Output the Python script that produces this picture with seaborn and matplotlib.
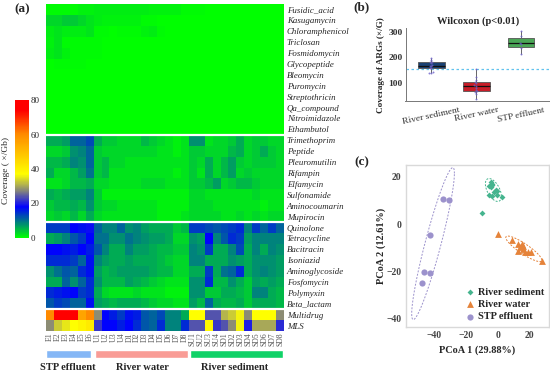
"""Three panel ARG figure: coverage heatmap, boxplot and PCoA."""

import matplotlib.pyplot as plt
import numpy as np
import pandas as pd
import seaborn as sns
from matplotlib.colors import LinearSegmentedColormap

sns.set_theme(style="white")
plt.rcParams["font.family"] = ["Liberation Serif", "DejaVu Serif"]

W, H = 550, 372

samples = (
    [f"E{i}" for i in range(1, 7)]
    + [f"U{i}" for i in range(1, 5)]
    + [f"D{i}" for i in range(1, 9)]
    + [f"SU{i}" for i in range(1, 5)]
    + [f"SD{i}" for i in range(1, 9)]
)

genes = [
    "Fusidic_acid", "Kasugamycin", "Chloramphenicol", "Triclosan", "Fosmidomycin",
    "Glycopeptide", "Bleomycin", "Puromycin", "Streptothricin", "Qa_compound",
    "Nitroimidazole", "Ethambutol",
    "Trimethoprim", "Peptide", "Pleuromutilin", "Rifampin", "Elfamycin",
    "Sulfonamide", "Aminocoumarin", "Mupirocin",
    "Quinolone", "Tetracycline", "Bacitracin", "Isoniazid", "Aminoglycoside",
    "Fosfomycin", "Polymyxin", "Beta_lactam",
    "Multidrug", "MLS",
]

coverage = [
    # low abundance block
    [0.5, 0.5, 0.5, 0.5, 1, 1, 1.5, 1.5, 1.5, 1.5, 1.5, 1.5, 1.5, 1, 1, 1, 1, 0.5, 0.5, 0.5, 0, 0, 0, 0, 0, 0, 0, 0, 0, 0],
    [3, 3, 4, 4, 3, 2, 1.5, 1, 1, 1, 1, 1, 0.5, 0.5, 0, 0, 0, 0, 0, 0, 0, 0, 0, 0, 0, 0, 0, 0, 0, 0],
    [1.5, 2, 1.5, 1.5, 1.5, 2, 0.5, 0.5, 0, 0.5, 0.5, 0.5, 1, 1.5, 0.5, 0, 0, 0, 0, 0, 0, 0, 0, 0, 0, 0, 0, 0, 0, 0],
    [1, 2, 0.5, 0.5, 0.5, 0.5, 0.5, 0, 0, 0, 0, 0, 0, 0, 0, 0, 0, 0, 0, 0, 0, 0, 0, 0, 0, 0, 0, 0, 0, 0],
    [1.5, 2, 1, 0.5, 0.5, 0.5, 0.5, 0, 0, 0, 0, 0, 0, 0, 0, 0, 0, 0, 0, 0, 0, 0, 0, 0, 0, 0, 0, 0, 0, 0],
    [0, 0.5, 0.5, 0.5, 0.5, 0, 0, 0, 0, 0, 0, 0, 0, 0, 0, 0, 0, 0, 0, 0, 0, 0, 0, 0, 0, 0, 0, 0, 0, 0],
    [0, 0, 0, 0, 0, 0, 0, 0, 0, 0, 0, 0, 0, 0, 0, 0, 0, 0, 0, 0, 0, 0, 0, 0, 0, 0, 0, 0, 0, 0],
    [0, 0, 0, 0, 0, 0, 0, 0, 0, 0, 0, 0, 0, 0, 0, 0, 0, 0, 0, 0, 0, 0, 0, 0, 0, 0, 0, 0, 0, 0],
    [0, 0, 0, 0, 0, 0, 0, 0, 0, 0, 0, 0, 0, 0, 0, 0, 0, 0, 0, 0, 0, 0, 0, 0, 0, 0, 0, 0, 0, 0],
    [0, 0, 0, 0, 0, 0, 0, 0, 0, 0, 0, 0, 0, 0, 0, 0, 0, 0, 0, 0, 0, 0, 0, 0, 0, 0, 0, 0, 0, 0],
    [0, 0, 0, 0, 0, 0, 0, 0, 0, 0, 0, 0, 0, 0, 0, 0, 0, 0, 0, 0, 0, 0, 0, 0, 0, 0, 0, 0, 0, 0],
    [0, 0, 0, 0, 0, 0, 0, 0, 0, 0, 0, 0, 0, 0, 0, 0, 0, 0, 0, 0, 0, 0, 0, 0, 0, 0, 0, 0, 0, 0],
    # middle block
    [6, 6, 7, 11, 11, 13, 6, 4, 4, 3, 3, 3, 5, 4, 3, 2, 1, 2, 8, 8, 2, 3, 3, 4, 6, 3, 4, 4, 3, 3],
    [3, 3, 4, 8, 9, 11, 4, 3, 3, 3, 3, 3, 3, 3, 2, 2, 1, 2, 4, 4, 3, 3, 3, 5, 6, 3, 4, 6, 4, 3],
    [5, 5, 6, 9, 8, 11, 4, 5, 3, 3, 2, 2, 2, 2, 2, 2, 2, 2, 4, 3, 6, 3, 5, 7, 4, 3, 4, 4, 4, 3],
    [6, 3, 3, 5, 7, 10, 4, 5, 2, 2, 2, 2, 2, 2, 2, 2, 1, 2, 4, 2, 6, 3, 5, 7, 3, 4, 3, 3, 3, 3],
    [2, 2, 3, 5, 5, 6, 3, 3, 2, 2, 2, 2, 3, 3, 3, 2, 2, 2, 4, 4, 5, 7, 3, 4, 5, 5, 4, 3, 3, 3],
    [6, 5, 6, 7, 7, 9, 4, 1, 1, 1, 1, 1, 1, 1, 1, 1, 1, 1, 3, 3, 2, 2, 2, 2, 2, 2, 3, 2, 2, 2],
    [4, 5, 5, 6, 5, 8, 4, 3, 3, 2, 2, 2, 2, 2, 1, 1, 1, 1, 3, 3, 3, 2, 2, 2, 2, 2, 2, 1, 2, 2],
    [3, 4, 3, 5, 3, 6, 3, 2, 2, 2, 2, 2, 2, 2, 1, 1, 1, 2, 3, 3, 3, 3, 2, 2, 3, 2, 3, 2, 3, 3],
    # high abundance block
    [14, 14, 14, 18, 17, 19, 11, 9, 9, 11, 8, 9, 7, 6, 6, 6, 4, 5, 14, 14, 13, 12, 13, 14, 15, 9, 14, 11, 14, 11],
    [6, 7, 9, 12, 14, 18, 10, 10, 8, 8, 10, 9, 8, 7, 7, 6, 3, 3, 8, 7, 18, 9, 12, 15, 14, 7, 9, 9, 9, 9],
    [18, 18, 17, 16, 18, 16, 12, 9, 6, 6, 9, 7, 7, 6, 5, 5, 4, 4, 9, 8, 14, 6, 6, 9, 13, 6, 9, 6, 9, 8],
    [15, 15, 15, 14, 11, 17, 9, 7, 6, 6, 7, 6, 6, 6, 5, 4, 3, 3, 9, 9, 6, 6, 6, 8, 7, 6, 8, 8, 8, 7],
    [8, 10, 12, 11, 15, 17, 7, 5, 6, 7, 7, 7, 7, 6, 5, 5, 3, 3, 6, 6, 14, 6, 10, 11, 15, 6, 8, 9, 8, 7],
    [6, 6, 11, 8, 11, 15, 8, 5, 5, 5, 7, 6, 5, 4, 3, 2, 2, 2, 8, 8, 15, 5, 5, 8, 6, 4, 7, 6, 7, 6],
    [15, 16, 17, 18, 14, 15, 6, 3, 2, 2, 2, 3, 2, 2, 2, 1, 1, 1, 8, 8, 4, 4, 6, 6, 5, 4, 9, 9, 6, 5],
    [12, 14, 13, 11, 11, 17, 7, 6, 5, 6, 6, 6, 5, 4, 3, 3, 2, 2, 7, 5, 11, 6, 5, 5, 6, 4, 6, 6, 6, 5],
    [60, 76, 76, 76, 55, 60, 28, 18, 16, 14, 17, 16, 12, 11, 13, 9, 9, 6, 37, 37, 24, 24, 31, 33, 36, 28, 37, 37, 37, 28],
    [28, 33, 35, 37, 39, 41, 22, 18, 18, 16, 18, 15, 12, 11, 15, 9, 9, 15, 24, 24, 38, 22, 24, 28, 36, 20, 30, 30, 30, 21],
]

group_names = ["STP effluent", "River water", "River sediment"]
group_sizes = [6, 12, 12]
group_colors = ["#85b7f6", "#f99c96", "#10d267"]

cover_sediment = [197, 190, 183, 180, 176, 172, 168, 165, 160, 157, 143, 140, 138]
cover_water = [155, 122, 112, 104, 98, 92, 88, 80, 72, 66, 62, 55, 35]
cover_stp = [305, 285, 258, 252, 236, 215]

sed_x = [-4.4, -3.8, -5.1, -3.2, -4.2, -1.3, -0.6, -2.1, -0.6, -5.1, -3.8, 2.5, -10.1]
sed_y = [17.9, 17.0, 16.3, 16.5, 15.5, 14.6, 13.9, 13.7, 12.3, 12.4, 11.8, 11.4, 4.8]
wat_x = [0.2, 9.3, 13.1, 14.1, 15.2, 15.8, 12.6, 16.2, 17.3, 19.4, 21.0, 27.8]
wat_y = [-4.2, -6.8, -8.6, -9.6, -8.2, -9.2, -11.3, -10.6, -11.7, -11.7, -11.7, -15.5]
stp_x = [-34.3, -30.7, -42.7, -46.5, -42.3, -47.4]
stp_y = [10.8, 10.1, -4.4, -20.3, -20.7, -24.9]


def px_axes(fig, left, top, right, bottom):
    return fig.add_axes([left / W, 1 - bottom / H, (right - left) / W, (bottom - top) / H])


def make_cmap():
    stops = [
        (0, "#00ff00"), (18, "#0000ff"), (27, "#808080"), (37, "#ffff00"),
        (60, "#ff8c00"), (74, "#ff0000"), (80, "#ff0000"),
    ]
    return LinearSegmentedColormap.from_list("cov", [(v / 80, c) for v, c in stops])


def plot_heatmap(fig):
    ax = px_axes(fig, 46, 4, 284, 331)
    cax = px_axes(fig, 14.5, 100, 29, 238)
    df = pd.DataFrame(coverage, index=genes, columns=samples)
    sns.heatmap(
        df, ax=ax, cbar_ax=cax, cmap=make_cmap(), vmin=0, vmax=80,
        xticklabels=True, yticklabels=True, linewidths=0,
        cbar_kws={"ticks": [0, 20, 40, 60, 80]},
    )
    ax.hlines([12, 20, 28], 0, len(samples), colors="white", linewidth=1.6)
    ax.yaxis.tick_right()
    ax.tick_params(axis="y", length=0, pad=2, labelsize=6.4, labelrotation=0)
    ax.tick_params(axis="x", length=0, pad=1, labelsize=5.6, labelrotation=90, labelcolor="#555555")
    for lab in ax.get_yticklabels():
        lab.set_fontstyle("italic")

    cax.tick_params(length=0, pad=1, labelsize=6.5)
    ax.collections[0].colorbar.outline.set_visible(False)
    fig.text(6 / W, 1 - 170 / H, "Coverage ( ×/Gb)", rotation=90, ha="center", va="center", fontsize=6.8)

    # sample group strip below the heatmap
    strip = px_axes(fig, 46, 350, 284, 358)
    starts = np.cumsum([0] + group_sizes[:-1])
    strip.barh(
        0, np.array(group_sizes) - 0.3, left=starts + 0.15 * np.array([0, 1, 1]),
        height=1, color=group_colors,
    )
    strip.set_xlim(0, len(samples))
    strip.set_ylim(-0.5, 0.5)
    strip.axis("off")
    for name, x in zip(group_names, [68, 142, 235]):
        fig.text(x / W, 1 - 367 / H, name, ha="center", va="center", fontsize=7.6, fontweight="bold")


def plot_box(fig):
    ax = px_axes(fig, 405.5, 28, 550, 100.5)
    names = ["River sediment", "River water", "STP effluent"]
    vals = [cover_sediment, cover_water, cover_stp]
    df = pd.DataFrame(
        {"group": np.repeat(names, [len(v) for v in vals]), "cover": np.concatenate(vals)}
    )
    ax.axhline(155, color="#62c3ee", linestyle=(0, (2, 2)), linewidth=0.9, zorder=0)
    sns.boxplot(
        data=df, x="group", y="cover", hue="group", ax=ax, width=0.6, legend=False,
        palette=["#0b3f82", "#e5000f", "#3bb54a"], showfliers=False, showcaps=False, linewidth=0.6,
        whiskerprops={"color": "#666666", "linewidth": 0.7},
        boxprops={"edgecolor": "#555555"},
        medianprops={"color": "#111111", "linewidth": 0.9},
    )
    sns.swarmplot(data=df, x="group", y="cover", ax=ax, color="#6a5fc8", size=1.4, alpha=0.8)
    ax.set_xlim(-0.58, 2.65)
    ax.set_ylim(30, 316)
    ax.set_yticks([100, 200, 300])
    ax.set_xlabel("")
    ax.set_ylabel("Coverage of ARGs (×/G)", fontsize=6.6, fontweight="bold", va="center")
    ax.yaxis.set_label_coords(-0.17, 0.49)
    ax.set_title("Wilcoxon (p<0.01)", fontsize=7.6, fontweight="bold", pad=3, x=0.5)
    sns.despine(ax=ax)
    for s in ["left", "bottom"]:
        ax.spines[s].set_color("#777777")
        ax.spines[s].set_linewidth(0.7)
    ax.tick_params(axis="y", length=0, pad=2, labelsize=6.8, labelcolor="#333333")
    ax.tick_params(axis="x", length=1, pad=3, labelsize=6.8, labelcolor="#333333", width=0.5)
    for lab in ax.get_xticklabels():
        lab.set_rotation(12)
    for lab in ax.get_yticklabels():
        lab.set_fontweight("bold")


def ellipse_xy(x, y, radius):
    xy = np.column_stack([x, y])
    chol = np.linalg.cholesky(np.cov(xy.T))
    t = np.linspace(0, 2 * np.pi, 120)
    return xy.mean(axis=0) + radius * np.column_stack([np.cos(t), np.sin(t)]) @ chol.T


def plot_pcoa(fig):
    ax = px_axes(fig, 405.5, 165.5, 549, 326.5)
    names = ["River sediment", "River water", "STP effluent"]
    colors = ["#45b48e", "#e5833a", "#9c92cc"]
    groups = [(sed_x, sed_y, "D", 9), (wat_x, wat_y, "^", 24), (stp_x, stp_y, "o", 20)]
    for (gx, gy, marker, size), name, color in zip(groups, names, colors):
        sns.scatterplot(x=gx, y=gy, ax=ax, color=color, marker=marker, s=size, linewidth=0, label=name)

    # the sediment ellipse leaves out the lone far point, like a robust fit
    for ex, ey, c, r in [
        (sed_x[:-1], sed_y[:-1], colors[0], 2.2),
        (wat_x[1:], wat_y[1:], colors[1], 2.3),
        (stp_x, stp_y, colors[2], 2.0),
    ]:
        pts = ellipse_xy(ex, ey, r)
        ax.plot(pts[:, 0], pts[:, 1], color=c, linestyle=(0, (2, 1.5)), linewidth=0.7)

    ax.set_xlim(-58, 32.4)
    ax.set_ylim(-43.3, 24.8)
    ax.set_xticks([-40, -20, 0, 20])
    ax.set_yticks([-40, -20, 0, 20])
    ax.set_xlabel("PCoA 1 (29.88%)", fontsize=7.4, fontweight="bold", va="center")
    ax.set_ylabel("PCoA 2 (12.61%)", fontsize=7.4, fontweight="bold", va="center")
    ax.xaxis.set_label_coords(0.5, -0.146)
    ax.yaxis.set_label_coords(-0.171, 0.5)
    ax.tick_params(length=0, pad=3, labelsize=7, labelcolor="#444444")
    for lab in ax.get_xticklabels() + ax.get_yticklabels():
        lab.set_fontweight("bold")
    for s in ax.spines.values():
        s.set_color("#d9d9d9")
        s.set_linewidth(1.0)
    ax.legend(
        loc="lower right", frameon=False, prop={"weight": "bold", "size": 7.4},
        borderaxespad=0.1, labelspacing=0.3, handletextpad=0.0, handlelength=1.4,
    )


def main():
    fig = plt.figure(figsize=(W / 100, H / 100), dpi=100)
    plot_heatmap(fig)
    plot_box(fig)
    plot_pcoa(fig)
    for letter, x, y in [("(a)", 22, 9), ("(b)", 361, 7), ("(c)", 362, 162)]:
        fig.text(x / W, 1 - y / H, letter, ha="center", va="center", fontsize=9.5, fontweight="bold")
    fig.savefig("out.png", dpi=100)
    plt.close(fig)


if __name__ == "__main__":
    main()
